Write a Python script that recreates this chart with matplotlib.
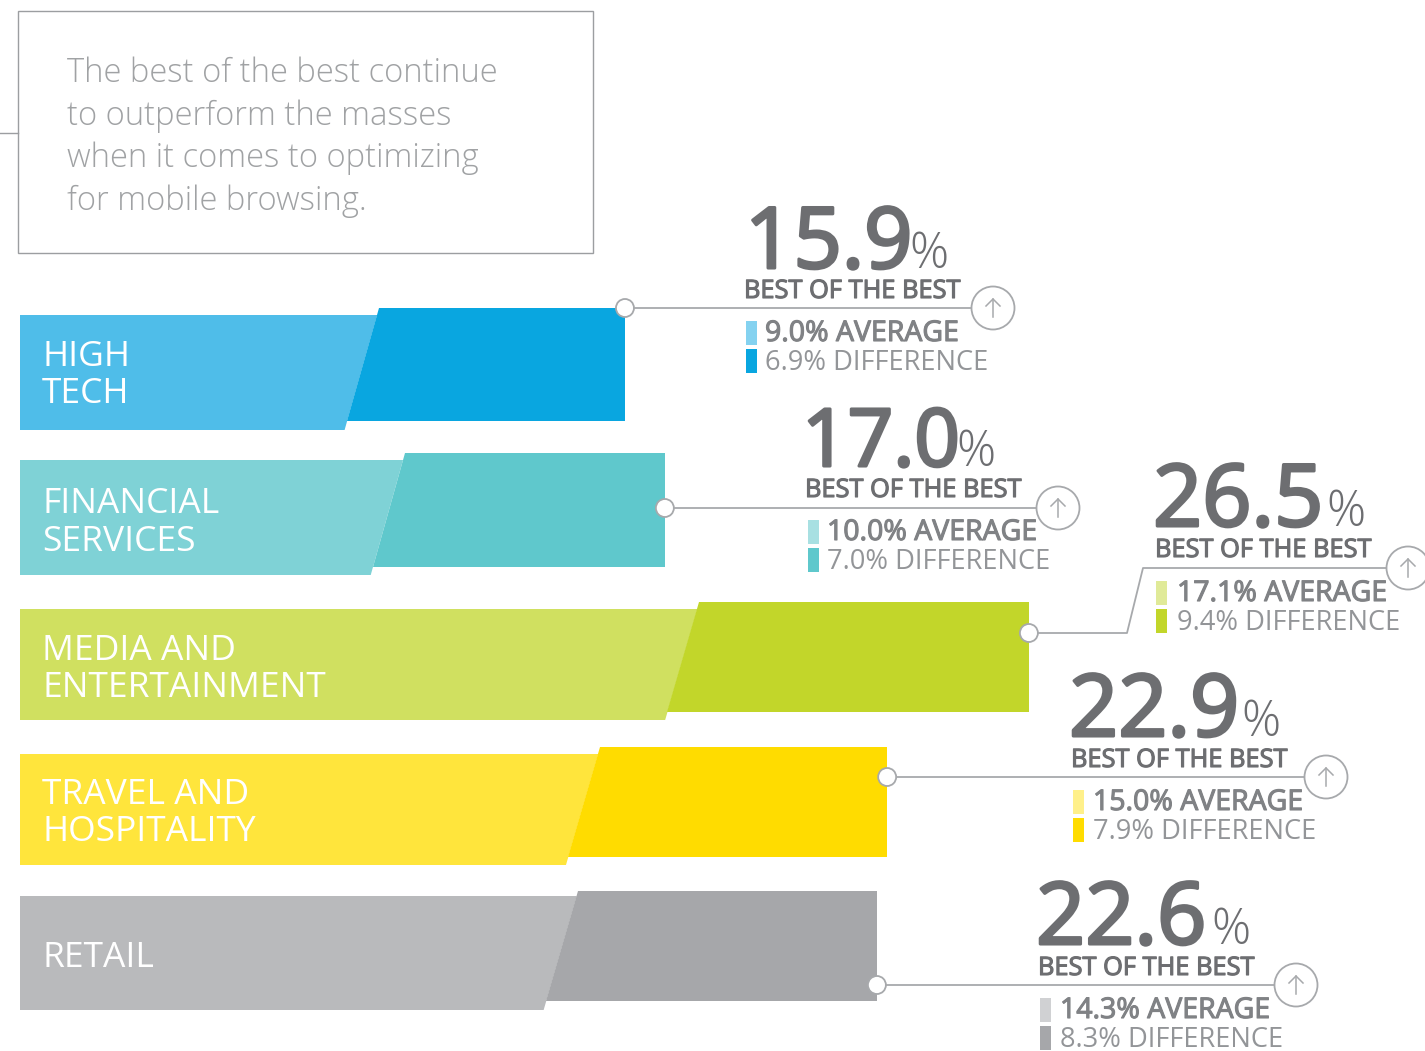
import matplotlib
matplotlib.use('Agg')
import matplotlib.pyplot as plt
import matplotlib.patheffects as pe
from matplotlib.patches import Circle, Polygon, Rectangle
from matplotlib.transforms import Affine2D

W, H = 1425, 1051

categories = [['HIGH', 'TECH'], ['FINANCIAL', 'SERVICES'], ['MEDIA AND', 'ENTERTAINMENT'],
              ['TRAVEL AND', 'HOSPITALITY'], ['RETAIL']]
best = [15.9, 17.0, 26.5, 22.9, 22.6]
average = [9.0, 10.0, 17.1, 15.0, 14.3]
difference = [6.9, 7.0, 9.4, 7.9, 8.3]

# bar ends as they sit in the picture, they drift a little from the printed numbers
bar_end = [15.92, 16.97, 26.55, 22.82, 22.55]
bar_split = [9.03, 9.71, 17.46, 14.85, 14.27]

light = ['#4fbde9', '#7fd2d6', '#d0e060', '#ffe53c', '#b9babc']
dark = ['#09a6e0', '#5fc8cc', '#c2d62a', '#ffdc00', '#a6a7aa']
swatch = ['#84d2f0', '#a8e0e2', '#e0ea98', '#fff08a', '#d0d1d3']

# pixel layout per row
light_y = [(315, 430), (460, 575), (609, 720), (754, 865), (896, 1010)]
dark_y = [(308, 421), (453, 567), (602, 712), (747, 857), (891, 1001)]
label_base = [(366, 403), (513, 551), (660, 697), (804, 841), (967,)]
big_pos = [(745, 268, 909), (802, 466, 956), (1153, 526, 1326), (1069, 736, 1241), (1036, 944, 1211)]
big_size = [61, 57.5, 62, 62, 62]
label_pos = [(744, 298), (805, 497), (1155, 557), (1071, 767), (1038, 975)]
swatch_pos = [(746, 321), (808, 520), (1156, 581), (1073, 790), (1040, 998)]
text_x = [765, 827, 1177, 1093, 1060]
line_y = [308, 508, 633, 777, 985]
ring_pos = [(993, 308), (1058, 508), (1408, 568), (1326, 777), (1296, 985)]

FONT = 'Open Sans'
DARK_TEXT = '#6d6e71'
MID_TEXT = '#808285'
PALE_TEXT = '#939598'
LINE = '#a7a9ac'

PX_PER_UNIT = 38.0
SLANT = 16 / PX_PER_UNIT


def heavier(color, width):
    # no semibold cut gets picked up, thicken the glyphs instead
    return [pe.withStroke(linewidth=width, foreground=color)]


fig = plt.figure(figsize=(W / 100, H / 100), dpi=100)
ax = fig.add_axes([0, 0, 1, 1])
ax.set_xlim(-20 / PX_PER_UNIT, (W - 20) / PX_PER_UNIT)
ax.set_ylim(H, 0)
ax.axis('off')

# everything that is not a bar is placed in image pixels
pix = Affine2D().scale(1, -1).translate(0, H)

for i in range(len(best)):
    lt, lb = light_y[i]
    dt, db = dark_y[i]
    s = bar_split[i]
    # the slanted edge runs from dark top to light bottom
    slope = 2 * SLANT / (db - dt)
    edge = lambda y: s + SLANT - (y - dt) * slope
    ax.add_patch(Polygon([(0, lt), (edge(lt), lt), (edge(lb), lb), (0, lb)], closed=True, fc=light[i], ec='none', zorder=1))
    ax.add_patch(Polygon([(edge(dt), dt), (bar_end[i], dt), (bar_end[i], db), (edge(db), db)], closed=True, fc=dark[i], ec='none', zorder=2))

    for line, yy in zip(categories[i], label_base[i]):
        ax.text(42, yy, line, transform=pix, family=FONT, fontsize=25.5, color='white', va='baseline', zorder=3)

    bx, by, px = big_pos[i]
    ax.text(bx, by, f'{best[i]:.1f}', transform=pix, family=FONT, fontsize=big_size[i], color=DARK_TEXT, va='baseline',
            path_effects=heavier(DARK_TEXT, 2.2))
    ax.text(px, by, '%', transform=pix, family=FONT, fontsize=35, weight='light', color=DARK_TEXT, va='baseline')
    lx, ly = label_pos[i]
    ax.text(lx, ly, 'BEST OF THE BEST', transform=pix, family=FONT, fontsize=18.3, color=DARK_TEXT, va='baseline',
            path_effects=heavier(DARK_TEXT, 0.8))

    sx, sy = swatch_pos[i]
    ax.add_patch(Rectangle((sx, sy), 11, 24, transform=pix, fc=swatch[i], ec='none'))
    ax.add_patch(Rectangle((sx, sy + 28), 11, 24, transform=pix, fc=dark[i], ec='none'))
    ax.text(text_x[i], sy + 20, f'{average[i]:.1f}% AVERAGE', transform=pix, family=FONT, fontsize=20.5, color=MID_TEXT, va='baseline',
            path_effects=heavier(MID_TEXT, 0.8))
    ax.text(text_x[i], sy + 49, f'{difference[i]:.1f}% DIFFERENCE', transform=pix, family=FONT, fontsize=19.6, color=PALE_TEXT, va='baseline')

    # leader line, media row has the bent one
    rx, ry = ring_pos[i]
    x0 = bar_end[i] * PX_PER_UNIT + 20
    if i == 2:
        xs, ys = [x0, 1127, 1143, rx], [line_y[i], line_y[i], ry, ry]
    else:
        xs, ys = [x0, rx], [ry, ry]
    ax.plot(xs, ys, transform=pix, color=LINE, lw=1.3, zorder=4, clip_on=False)
    ax.add_patch(Circle((x0, line_y[i]), 9, transform=pix, fc='white', ec=LINE, lw=1.3, zorder=5))
    ax.add_patch(Circle((rx, ry), 21.5, transform=pix, fc='white', ec=LINE, lw=1.3, zorder=5))
    ax.plot([rx, rx], [ry - 9, ry + 9], transform=pix, color=LINE, lw=1.1, zorder=6)
    ax.plot([rx - 7, rx, rx + 7], [ry - 2, ry - 9, ry - 2], transform=pix, color=LINE, lw=1.1, zorder=6)

# callout box at the top
ax.add_patch(Rectangle((18, 11), 575, 242, transform=pix, fc='white', ec='#9c9ea1', lw=1.0))
ax.plot([0, 18], [133, 133], transform=pix, color='#9c9ea1', lw=1.0)
intro = ['The best of the best continue', 'to outperform the masses',
         'when it comes to optimizing', 'for mobile browsing.']
for line, yy in zip(intro, [82, 125, 167, 210]):
    ax.text(67, yy, line, transform=pix, family=FONT, fontsize=23.6, weight='light', color='#a0a2a4', va='baseline')

fig.savefig('out.png', dpi=100)
